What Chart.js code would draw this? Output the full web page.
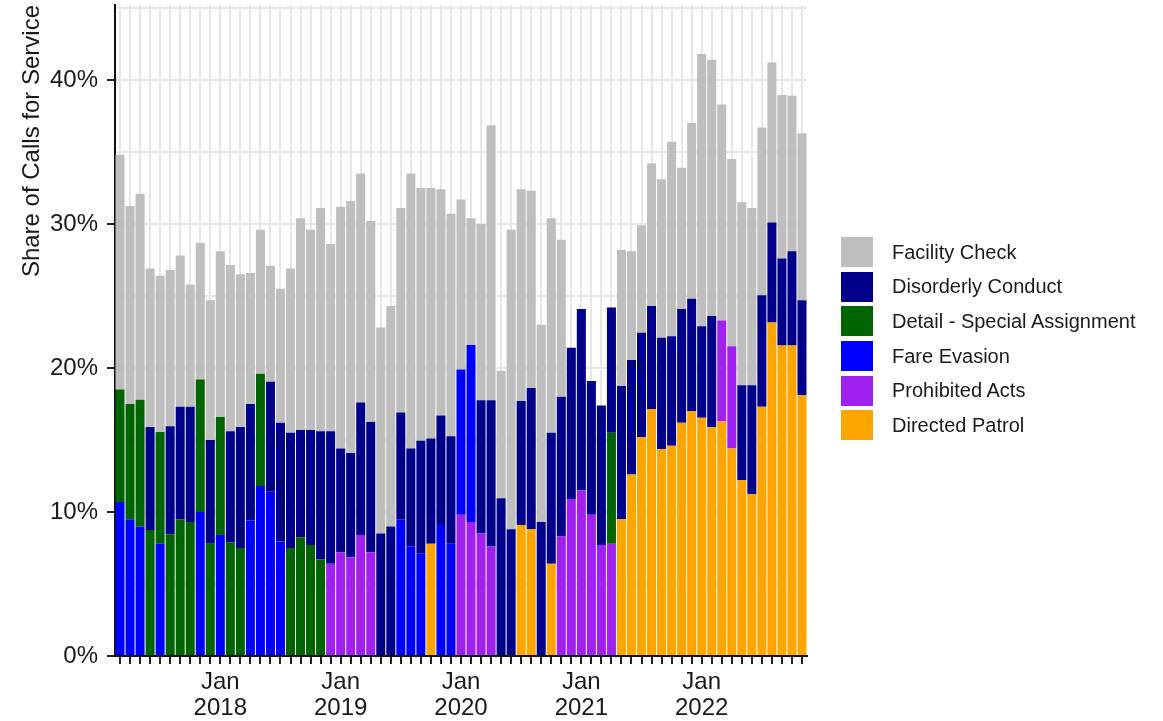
<!DOCTYPE html>
<html>
<head>
<meta charset="utf-8">
<script src="https://cdn.jsdelivr.net/npm/chart.js@4.4.1/dist/chart.umd.min.js"></script>
<style>
  html, body { margin: 0; padding: 0; background: #fff; }
  #wrap { position: relative; width: 1163px; height: 721px; }
  #legend {
    position: absolute; left: 841px; top: 237px;
    list-style: none; margin: 0; padding: 0;
    font-family: "Liberation Sans", Arial, sans-serif; font-size: 20px; color: #1a1a1a;
  }
  #legend li { display: flex; align-items: center; height: 30px; margin-bottom: 4.7px; white-space: nowrap; }
  #legend .box { width: 32px; height: 30px; margin-right: 19px; }
</style>
</head>
<body>
<div id="wrap">
  <canvas id="callsChart"></canvas>
  <ul id="legend"></ul>
</div>
<script>
// Months shown on the x axis (Mar 2017 - Nov 2022)
const months = [
  '2017-03','2017-04','2017-05','2017-06','2017-07','2017-08','2017-09','2017-10','2017-11','2017-12',
  '2018-01','2018-02','2018-03','2018-04','2018-05','2018-06','2018-07','2018-08','2018-09','2018-10','2018-11','2018-12',
  '2019-01','2019-02','2019-03','2019-04','2019-05','2019-06','2019-07','2019-08','2019-09','2019-10','2019-11','2019-12',
  '2020-01','2020-02','2020-03','2020-04','2020-05','2020-06','2020-07','2020-08','2020-09','2020-10','2020-11','2020-12',
  '2021-01','2021-02','2021-03','2021-04','2021-05','2021-06','2021-07','2021-08','2021-09','2021-10','2021-11','2021-12',
  '2022-01','2022-02','2022-03','2022-04','2022-05','2022-06','2022-07','2022-08','2022-09','2022-10','2022-11'
];

// Share of calls for service (%), one value per month, null = not among the top types that month
const n = null;
const directedPatrol = [
  n, n, n, n, n, n, n, n, n, n,
  n, n, n, n, n, n, n, n, n, n, n, n,
  n, n, n, n, n, n, n, n, n, 7.8, n, n,
  n, n, n, n, n, n, 9.1, 8.8, n, 6.4, n, n,
  n, n, n, n, 9.5, 12.6, 15.2, 17.15, 14.35, 14.6, 16.2, 17.0,
  16.55, 15.9, 16.3, 14.4, 12.2, 11.25, 17.3, 23.15, 21.55, 21.55, 18.1
];
const prohibitedActs = [
  n, n, n, n, n, n, n, n, n, n,
  n, n, n, n, n, n, n, n, n, n, n, 6.4,
  7.2, 6.85, 8.4, 7.2, n, n, n, n, n, n, n, n,
  9.8, 9.3, 8.5, 7.6, n, n, n, n, n, n, 8.3, 10.9,
  11.5, 9.8, 7.7, 7.8, n, n, n, n, n, n, n, n,
  n, n, 7.0, 7.1, n, n, n, n, n, n, n
];
const fareEvasion = [
  10.7, 9.5, 9.0, n, 7.8, n, n, n, 10.0, n,
  8.4, n, n, 9.4, 11.8, 11.4, 7.95, n, n, n, n, n,
  n, n, n, n, n, n, 9.5, 7.6, 7.1, n, 9.1, 7.8,
  10.1, 12.3, n, n, n, n, n, n, n, n, n, n,
  n, n, n, n, n, n, n, n, n, n, n, n,
  n, n, n, n, n, n, n, n, n, n, n
];
const detailSpecial = [
  7.8, 8.0, 8.8, 8.75, 7.75, 8.45, 9.5, 9.3, 9.2, 7.8,
  8.2, 7.9, 7.5, n, 7.8, n, n, 7.5, 8.25, 7.7, 6.7, n,
  n, n, n, n, n, n, n, n, n, n, n, n,
  n, n, n, n, n, n, n, n, n, n, n, n,
  n, n, n, 7.7, n, n, n, n, n, n, n, n,
  n, n, n, n, n, n, n, n, n, n, n
];
const disorderly = [
  n, n, n, 7.15, n, 7.5, 7.8, 8.0, n, 7.2,
  n, 7.7, 8.4, 8.1, n, 7.65, 8.25, 8.0, 7.45, 8.0, 8.9, 9.2,
  7.2, 7.25, 9.2, 9.05, 8.5, 9.0, 7.4, 6.8, 7.85, 7.3, 7.6, 7.45,
  n, n, 9.25, 10.15, 10.95, 8.8, 8.6, 9.8, 9.3, 9.1, 9.7, 10.5,
  12.6, 9.3, 9.7, 8.7, 9.25, 7.95, 7.25, 7.15, 7.75, 7.6, 7.9, 7.8,
  6.35, 7.7, n, n, 6.6, 7.55, 7.75, 6.95, 6.05, 6.55, 6.6
];
const facilityCheck = [
  16.3, 13.75, 14.3, 11.0, 10.85, 10.85, 10.5, 8.5, 9.5, 9.7,
  11.5, 11.55, 10.6, 9.1, 10.0, 8.05, 9.3, 11.4, 14.7, 13.9, 15.5, 13.0,
  16.8, 17.5, 15.9, 13.95, 14.3, 15.3, 14.2, 19.1, 17.55, 17.4, 15.7, 15.45,
  11.8, 8.8, 12.25, 19.1, 8.85, 20.8, 14.7, 13.7, 13.7, 14.9, 10.9, n,
  n, n, n, n, 9.45, 7.55, 7.45, 9.9, 11.0, 13.5, 9.8, 12.2,
  18.9, 17.8, 15.0, 13.0, 12.7, 12.3, 11.65, 11.1, 11.35, 10.8, 11.6
];

// y axis: grid every 5%, labels every 10%
const yTicks = [0, 5, 10, 15, 20, 25, 30, 35, 40, 45];

Chart.defaults.font.family = '"Liberation Sans", Arial, sans-serif';
Chart.defaults.color = '#1a1a1a';

const bar = (label, data, color) => ({
    label: label,
    data: data,
    backgroundColor: color,
    borderWidth: 0,
    barPercentage: 0.9,
    categoryPercentage: 1.0
});

// Legend as an HTML list, top of the stack first
const htmlLegend = {
    id: 'htmlLegend',
    afterUpdate(chart) {
        const ul = document.getElementById('legend');
        ul.innerHTML = '';
        const items = chart.options.plugins.legend.labels.generateLabels(chart).reverse();
        items.forEach(item => {
            const li = document.createElement('li');
            const box = document.createElement('span');
            box.className = 'box';
            box.style.background = item.fillStyle;
            li.appendChild(box);
            li.appendChild(document.createTextNode(item.text));
            ul.appendChild(li);
        });
    }
};

const ctx = document.getElementById('callsChart').getContext('2d');
new Chart(ctx, {
    type: 'bar',
    data: {
        labels: months,
        // bottom of the stack first
        datasets: [
            bar('Directed Patrol', directedPatrol, '#FFA500'),
            bar('Prohibited Acts', prohibitedActs, '#A020F0'),
            bar('Fare Evasion', fareEvasion, '#0000FF'),
            bar('Detail - Special Assignment', detailSpecial, '#006400'),
            bar('Disorderly Conduct', disorderly, '#00008B'),
            bar('Facility Check', facilityCheck, '#BEBEBE')
        ]
    },
    plugins: [htmlLegend],
    options: {
        responsive: true,
        maintainAspectRatio: false,
        animation: false,
        layout: { padding: { top: 5, right: 356, bottom: 0, left: 0 } },
        plugins: {
            tooltip: { enabled: false },
            legend: { display: false }
        },
        scales: {
            x: {
                type: 'category',
                stacked: true,
                offset: true,
                grid: {
                    offset: false,
                    color: '#e6e6e6',
                    lineWidth: 2,
                    tickColor: '#222',
                    tickWidth: 2,
                    tickLength: 8
                },
                border: { color: '#111', width: 2 },
                ticks: {
                    autoSkip: false,
                    maxRotation: 0,
                    padding: 5,
                    color: '#1a1a1a',
                    font: { size: 24, lineHeight: 1.1 },
                    callback: (value, index) => {
                        const m = months[index];
                        return m.endsWith('-01') ? ['Jan', m.slice(0, 4)] : '';
                    }
                },
                afterFit: (scale) => { scale.height = 65; }
            },
            y: {
                stacked: true,
                min: 0,
                max: 45.2,
                afterBuildTicks: (scale) => { scale.ticks = yTicks.map(v => ({ value: v })); },
                grid: {
                    color: '#e6e6e6',
                    lineWidth: 2,
                    tickLength: 8,
                    tickWidth: 2,
                    tickColor: (c) => (c.tick && c.tick.value % 10 === 0) ? '#222' : 'rgba(0,0,0,0)'
                },
                border: { color: '#111', width: 2 },
                ticks: {
                    padding: 9,
                    color: '#1a1a1a',
                    font: (c) => ({ size: (c.tick && c.tick.value % 10 === 0) ? 24 : 1 }),
                    callback: (value) => value % 10 === 0 ? value + '%' : ''
                },
                title: {
                    display: true,
                    text: 'Share of Calls for Service',
                    align: 'end',
                    color: '#1a1a1a',
                    font: { size: 24 },
                    padding: { top: 18, bottom: 0 }
                },
                afterFit: (scale) => {
                    scale.width = 115;
                    scale.paddingTop = 0;
                    scale.paddingBottom = 0;
                }
            }
        }
    }
});
</script>
</body>
</html>
